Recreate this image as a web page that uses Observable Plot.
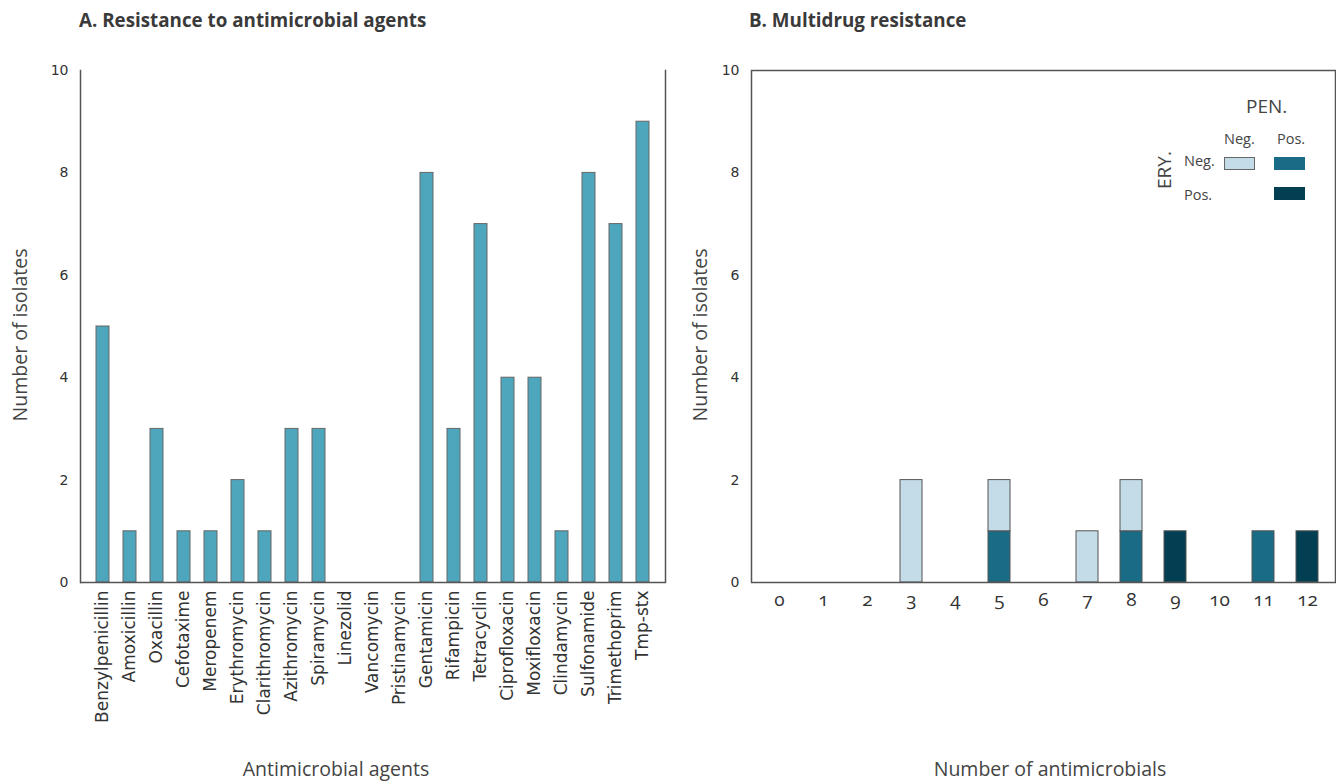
<!DOCTYPE html>
<html><head><meta charset="utf-8">
<script src="https://cdn.jsdelivr.net/npm/d3@7"></script>
<script src="https://cdn.jsdelivr.net/npm/@observablehq/plot@0.6"></script>
<style>
body{margin:0;background:#fff;}
#wrap{position:relative;width:1336px;height:784px;overflow:hidden;background:#fff;}
#wrap > div{position:absolute;}
.title{font-family:"Open Sans",sans-serif;font-weight:700;font-size:18.8px;color:#3a3a3a;white-space:nowrap;}
.alab{font-family:"Open Sans",sans-serif;font-size:19.5px;line-height:1;color:#444;white-space:nowrap;}
.leg{font-family:"Open Sans",sans-serif;color:#444;white-space:nowrap;}
</style></head><body><div id="wrap"></div>
<script>
// ---- Panel A data ----
const agents = ["Benzylpenicillin","Amoxicillin","Oxacillin","Cefotaxime","Meropenem","Erythromycin","Clarithromycin","Azithromycin","Spiramycin","Linezolid","Vancomycin","Pristinamycin","Gentamicin","Rifampicin","Tetracyclin","Ciprofloxacin","Moxifloxacin","Clindamycin","Sulfonamide","Trimethoprim","Tmp-stx"];
const agentCounts = [5,1,3,1,1,2,1,3,3,0,0,0,8,3,7,4,4,1,8,7,9];

// ---- Panel B data ----
const numAntimicrobials = ["0","1","2","3","4","5","6","7","8","9","10","11","12"];
const mdrNumber = ["3","5","5","7","8","8","9","11","12"];
const mdrGroup = ["negneg","pospen","negneg","negneg","pospen","negneg","posboth","pospen","posboth"];
const mdrCount = [2,1,1,1,1,1,1,1,1];
const groupKeys = ["posboth","pospen","negneg"];
const groupColors = ["#023f52","#1a6b85","#c4dce7"];

const yTicks = [0,2,4,6,8,10];
const tickFont = "'DejaVu Sans', sans-serif";

const wrap = document.getElementById("wrap");
function addDiv(cls, text, css) {
  const d = document.createElement("div");
  d.className = cls; d.textContent = text;
  Object.assign(d.style, css);
  wrap.appendChild(d);
  return d;
}

// ---- Panel A ----
const dataA = agents.map((a, i) => ({agent: a, count: agentCounts[i]}));
const plotA = Plot.plot({
  width: 680, height: 740,
  marginLeft: 80, marginRight: 15, marginTop: 70, marginBottom: 158,
  style: {fontFamily: tickFont, color: "#333", background: "transparent"},
  x: {domain: agents, paddingInner: 0.53, paddingOuter: 0.265, label: null},
  y: {domain: [0, 10], label: null},
  marks: [
    Plot.barY(dataA, {x: "agent", y: "count", fill: "#4ea6bd", stroke: "#666", strokeWidth: 1}),
    Plot.axisY({ticks: yTicks, tickSize: 0, tickPadding: 12, label: null, fontSize: 14}),
    Plot.axisX({tickSize: 0, tickRotate: -90, tickPadding: 8, label: null, fontSize: 17}),
    Plot.ruleY([0], {stroke: "#555", strokeWidth: 1.5}),
    Plot.frame({anchor: "left", stroke: "#555", strokeWidth: 1.5}),
    Plot.frame({anchor: "right", stroke: "#555", strokeWidth: 1.5})
  ]
});
const boxA = document.createElement("div");
Object.assign(boxA.style, {left: "0px", top: "0px"});
boxA.appendChild(plotA);
wrap.appendChild(boxA);

// ---- Panel B ----
const dataB = mdrNumber.map((n, i) => ({n, group: mdrGroup[i], count: mdrCount[i]}));
const plotB = Plot.plot({
  width: 666, height: 620,
  marginLeft: 81, marginRight: 1, marginTop: 70, marginBottom: 38,
  style: {fontFamily: tickFont, color: "#333", background: "transparent"},
  x: {domain: numAntimicrobials, paddingInner: 0.49, paddingOuter: 0.245, label: null},
  y: {domain: [0, 10], label: null},
  color: {domain: groupKeys, range: groupColors},
  marks: [
    Plot.barY(dataB, Plot.stackY({order: groupKeys}, {x: "n", y: "count", fill: "group", stroke: "#555", strokeWidth: 1})),
    Plot.axisY({ticks: yTicks, tickSize: 0, tickPadding: 12, label: null, fontSize: 14}),
    Plot.axisX({tickSize: 0, tickPadding: 10, label: null, fontSize: 19, fontFamily: "'Open Sans', sans-serif", fontVariant: "oldstyle-nums"}),
    Plot.frame({stroke: "#555", strokeWidth: 1.5})
  ]
});
const boxB = document.createElement("div");
Object.assign(boxB.style, {left: "670px", top: "0px"});
boxB.appendChild(plotB);
wrap.appendChild(boxB);

// ---- Titles and axis titles ----
addDiv("title", "A. Resistance to antimicrobial agents", {left: "79px", top: "7px"});
addDiv("title", "B. Multidrug resistance", {left: "749px", top: "7px"});
addDiv("alab", "Antimicrobial agents", {left: "336px", top: "759px", transform: "translateX(-50%)"});
addDiv("alab", "Number of antimicrobials", {left: "1050px", top: "759px", transform: "translateX(-50%)"});
addDiv("alab", "Number of isolates", {left: "20px", top: "335px", transform: "translate(-50%,-50%) rotate(-90deg)"});
addDiv("alab", "Number of isolates", {left: "700px", top: "335px", transform: "translate(-50%,-50%) rotate(-90deg)"});

// ---- Legend (PEN. x ERY.) ----
addDiv("leg", "PEN.", {left: "1246px", top: "93px", fontSize: "19px"});
addDiv("leg", "Neg.", {left: "1224px", top: "129px", fontSize: "14.5px"});
addDiv("leg", "Pos.", {left: "1277px", top: "129px", fontSize: "14.5px"});
addDiv("leg", "ERY.", {left: "1164px", top: "170px", fontSize: "19px", transform: "translate(-50%,-50%) rotate(-90deg)"});
addDiv("leg", "Neg.", {left: "1184px", top: "151px", fontSize: "14.5px"});
addDiv("leg", "Pos.", {left: "1184px", top: "185px", fontSize: "14.5px"});
const swatches = [
  {key: "negneg", left: 1224, top: 157},
  {key: "pospen", left: 1274, top: 157},
  {key: "posboth", left: 1274, top: 187}
];
swatches.forEach(s => {
  const c = groupColors[groupKeys.indexOf(s.key)];
  const d = document.createElement("div");
  Object.assign(d.style, {left: s.left + "px", top: s.top + "px", width: "31px", height: "13px", background: c, boxSizing: "border-box",
    border: s.key === "negneg" ? "1px solid #666" : "none"});
  wrap.appendChild(d);
});
</script>
</body></html>
